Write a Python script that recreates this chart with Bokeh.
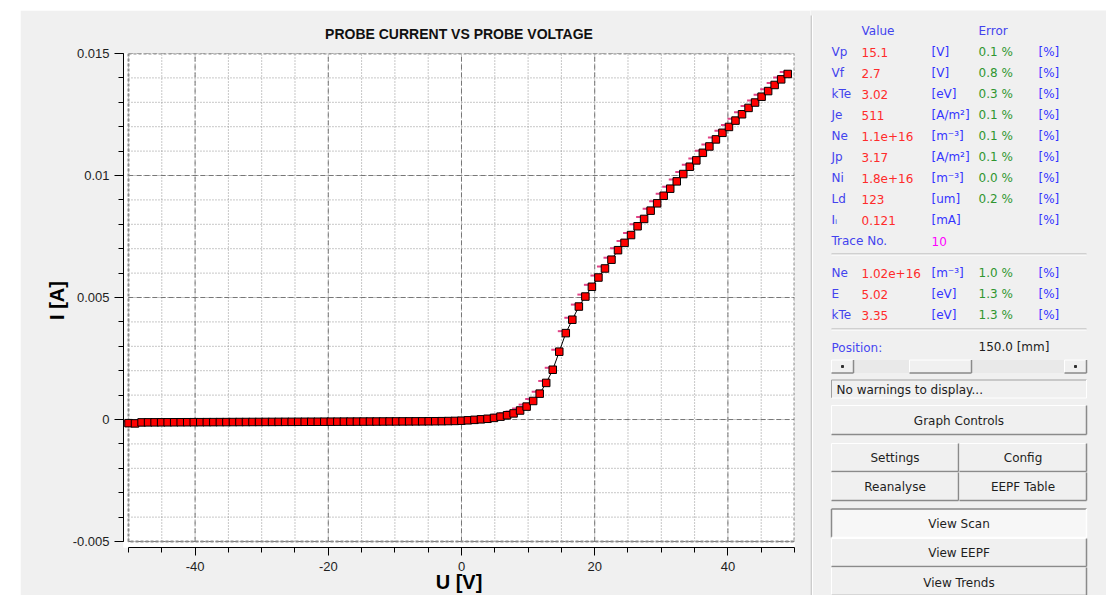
from bokeh.plotting import figure
from bokeh.models import Range1d, FixedTicker, NumeralTickFormatter, Spacer
from bokeh.layouts import row, column
from bokeh.embed import file_html
from bokeh.resources import INLINE
from bokeh.core.properties import value

# ---- probe sweep: voltage [V] and measured probe current [A] ----
voltage = [
    -50.00, -49.02, -48.04, -47.06, -46.08, -45.10, -44.12, -43.14, -42.16, -41.18,
    -40.20, -39.22, -38.24, -37.26, -36.28, -35.30, -34.32, -33.34, -32.36, -31.38,
    -30.40, -29.42, -28.44, -27.46, -26.48, -25.50, -24.52, -23.54, -22.56, -21.58,
    -20.60, -19.62, -18.64, -17.66, -16.68, -15.70, -14.72, -13.74, -12.76, -11.78,
    -10.80, -9.82, -8.84, -7.86, -6.88, -5.90, -4.92, -3.94, -2.96, -1.98,
    -1.00, -0.02, 0.96, 1.94, 2.92, 3.90, 4.88, 5.86, 6.84, 7.82,
    8.80, 9.78, 10.76, 11.74, 12.72, 13.70, 14.68, 15.66, 16.64, 17.62,
    18.60, 19.58, 20.56, 21.54, 22.52, 23.50, 24.48, 25.46, 26.44, 27.42,
    28.40, 29.38, 30.36, 31.34, 32.32, 33.30, 34.28, 35.26, 36.24, 37.22,
    38.20, 39.18, 40.16, 41.14, 42.12, 43.10, 44.08, 45.06, 46.04, 47.02,
    48.00, 48.98,
]
current = [
    -0.000150, -0.000160, -0.000118, -0.000117, -0.000116, -0.000115, -0.000114, -0.000113, -0.000112, -0.000111,
    -0.000110, -0.000109, -0.000108, -0.000107, -0.000106, -0.000105, -0.000104, -0.000103, -0.000102, -0.000101,
    -0.000100, -0.000099, -0.000098, -0.000097, -0.000096, -0.000095, -0.000094, -0.000093, -0.000092, -0.000091,
    -0.000090, -0.000089, -0.000088, -0.000087, -0.000086, -0.000085, -0.000084, -0.000083, -0.000082, -0.000081,
    -0.000080, -0.000079, -0.000078, -0.000077, -0.000076, -0.000075, -0.000073, -0.000071, -0.000068, -0.000064,
    -0.000058, -0.000048, -0.000032, -0.000014, 0.000008, 0.000030, 0.000066, 0.000118, 0.000176, 0.000250,
    0.000370, 0.000530, 0.000760, 0.001060, 0.001500, 0.002040, 0.002780, 0.003540, 0.004090, 0.004630,
    0.005040, 0.005440, 0.005820, 0.006190, 0.006550, 0.006940, 0.007240, 0.007560, 0.007920, 0.008220,
    0.008560, 0.008860, 0.009170, 0.009460, 0.009760, 0.010060, 0.010360, 0.010620, 0.010930, 0.011190,
    0.011480, 0.011750, 0.011990, 0.012250, 0.012510, 0.012770, 0.012990, 0.013230, 0.013460, 0.013710,
    0.013940, 0.014160,
]

# ---- axis ticks ----
x_major = [-40, -20, 0, 20, 40]
x_minor = [-50, -45, -40, -35, -30, -25, -20, -15, -10, -5, 0, 5, 10, 15, 20, 25, 30, 35, 40, 45, 50]
y_major = [-0.005, 0, 0.005, 0.01, 0.015]
y_minor = [-0.005, -0.004, -0.003, -0.002, -0.001, 0.0, 0.001, 0.002, 0.003, 0.004, 0.005,
           0.006, 0.007, 0.008, 0.009, 0.01, 0.011, 0.012, 0.013, 0.014, 0.015]
x_lim = (-50, 50)
y_lim = (-0.005, 0.015)

# ---- analysis results panel ----
param_names = ["Vp", "Vf", "kTe", "Je", "Ne", "Jp", "Ni", "Ld", "Iᵢ"]
param_values = ["15.1", "2.7", "3.02", "511", "1.1e+16", "3.17", "1.8e+16", "123", "0.121"]
param_units = ["[V]", "[V]", "[eV]", "[A/m²]", "[m⁻³]", "[A/m²]", "[m⁻³]", "[um]", "[mA]"]
param_errors = ["0.1 %", "0.8 %", "0.3 %", "0.1 %", "0.1 %", "0.1 %", "0.0 %", "0.2 %", ""]
trace_no = "10"
eepf_names = ["Ne", "E", "kTe"]
eepf_values = ["1.02e+16", "5.02", "3.35"]
eepf_units = ["[m⁻³]", "[eV]", "[eV]"]
eepf_errors = ["1.0 %", "1.3 %", "1.3 %"]
position_text = "150.0 [mm]"
warning_text = "No warnings to display..."
button_labels = ["Graph Controls", "Settings", "Config", "Reanalyse", "EEPF Table",
                 "View Scan", "View EEPF", "View Trends"]

BG = "#f0f0f0"
TICK_FONT = "Liberation Sans"
PANEL_FONT = "DejaVu Sans"

# ================= I-V characteristic =================
p = figure(width=790, height=585,
           x_range=Range1d(-50.75, 50), y_range=Range1d(-0.005245, 0.015),
           output_backend="svg", toolbar_location=None,
           min_border_left=103, min_border_right=16, min_border_top=43, min_border_bottom=47,
           background_fill_color="white", border_fill_color=BG, outline_line_color=None)
p.frame_align = False
p.xgrid.visible = False
p.ygrid.visible = False

p.title.text = "PROBE CURRENT VS PROBE VOLTAGE"
p.title.align = "center"
p.title.text_font = TICK_FONT
p.title.text_font_size = "14px"
p.title.text_font_style = "bold"
p.title.text_color = "#111111"
p.title.standoff = 23

# grid: dotted minor lines, dashed major lines, dashed outer border
p.segment(x0=x_minor, y0=[y_lim[0]] * len(x_minor), x1=x_minor, y1=[y_lim[1]] * len(x_minor),
          line_color="#8f8f8f", line_width=1, line_dash="1 2")
p.segment(x0=[x_lim[0]] * len(y_minor), y0=y_minor, x1=[x_lim[1]] * len(y_minor), y1=y_minor,
          line_color="#8f8f8f", line_width=1, line_dash="1 2")
p.segment(x0=x_major, y0=[y_lim[0]] * len(x_major), x1=x_major, y1=[y_lim[1]] * len(x_major),
          line_color="#777777", line_width=1, line_dash="5 3")
p.segment(x0=[x_lim[0]] * len(y_major), y0=y_major, x1=[x_lim[1]] * len(y_major), y1=y_major,
          line_color="#777777", line_width=1, line_dash="5 3")
p.quad(left=[x_lim[0]], right=[x_lim[1]], bottom=[y_lim[0]], top=[y_lim[1]],
       fill_alpha=0, line_color="#8c8c8c", line_width=2, line_dash="3 2")

# measured trace
p.line(voltage, current, line_color="black", line_width=1)
p.segment(x0=[v - 1.2 for v in voltage], y0=[c + 0.00008 for c in current],
          x1=[v - 0.15 for v in voltage], y1=[c + 0.00008 for c in current],
          line_color="#dd2272", line_width=2, line_alpha=0.85)
p.scatter(voltage, current, marker="square", size=7.5,
          fill_color="#ff0000", line_color="black", line_width=1)

p.xaxis.ticker = FixedTicker(ticks=x_major, minor_ticks=x_minor)
p.yaxis.ticker = FixedTicker(ticks=y_major, minor_ticks=y_minor)
p.xaxis.formatter = NumeralTickFormatter(format="0")
p.yaxis.formatter = NumeralTickFormatter(format="0.[000]")
p.xaxis.bounds = x_lim
p.yaxis.bounds = y_lim
p.xaxis.axis_label = "U [V]"
p.yaxis.axis_label = "I [A]"
for ax in (p.xaxis[0], p.yaxis[0]):
    ax.axis_line_color = "black"
    ax.axis_line_width = 1
    ax.major_tick_line_color = "black"
    ax.minor_tick_line_color = "black"
    ax.major_tick_in = 0
    ax.minor_tick_in = 0
    ax.minor_tick_out = 5
    ax.major_label_text_font = TICK_FONT
    ax.major_label_text_font_size = "13px"
    ax.major_label_text_color = "#1e1e1e"
    ax.axis_label_text_font = TICK_FONT
    ax.axis_label_text_font_size = "20px"
    ax.axis_label_text_font_style = "bold"
    ax.axis_label_text_color = "black"
p.xaxis.major_tick_out = 8
p.xaxis.major_label_standoff = 6
p.xaxis.axis_label_standoff = -3
p.yaxis.major_tick_out = 9
p.yaxis.major_label_standoff = 5
p.yaxis.axis_label_standoff = 2

# ================= results / control panel =================
q = figure(width=296, height=585, x_range=Range1d(810, 1106), y_range=Range1d(595, 10),
           output_backend="svg", toolbar_location=None, min_border=0,
           x_axis_location=None, y_axis_location=None,
           background_fill_color=BG, border_fill_color=BG, outline_line_color=None)
q.frame_align = False
q.grid.visible = False

# divider between the graph and the panel
q.segment(x0=[810.5, 812], y0=[15, 15], x1=[810.5, 812], y1=[595, 595],
          line_color=["#a8a8a8", "#ffffff"], line_width=1)

col_label, col_value, col_unit, col_err, col_pct = 831, 861, 931, 978, 1038
row_y = [51.5 + 21 * k for k in range(len(param_names))]
trace_y = 240.5
eepf_y = [272.5, 293.5, 314.5]

LABEL_C, VALUE_C, UNIT_C, ERR_C = "#4343ee", "#ff2b2b", "#3434ff", "#2f962f"


def texts(xs, ys, labels, color, align="left", size="12px"):
    q.text(x=xs, y=ys, text=labels, text_font=value(PANEL_FONT), text_font_size=size,
           text_color=color, text_baseline="middle", text_align=align)


texts([col_value, col_err], [30, 30], ["Value", "Error"], LABEL_C)
texts([col_label] * len(param_names), row_y, param_names, LABEL_C)
texts([col_value] * len(param_values), row_y, param_values, VALUE_C)
texts([col_unit] * len(param_units), row_y, param_units, UNIT_C)
texts([col_err] * len(param_errors), row_y, param_errors, ERR_C)
texts([col_pct] * len(param_names), row_y, ["[%]"] * len(param_names), UNIT_C)
texts([col_label], [trace_y], ["Trace No."], LABEL_C)
texts([col_unit], [trace_y], [trace_no], "#ff00ff")

texts([col_label] * 3, eepf_y, eepf_names, LABEL_C)
texts([col_value] * 3, eepf_y, eepf_values, VALUE_C)
texts([col_unit] * 3, eepf_y, eepf_units, UNIT_C)
texts([col_err] * 3, eepf_y, eepf_errors, ERR_C)
texts([col_pct] * 3, eepf_y, ["[%]"] * 3, UNIT_C)

# etched separators
q.segment(x0=[831, 831, 831, 831], y0=[253.5, 254.5, 328.5, 329.5],
          x1=[1086, 1086, 1086, 1086], y1=[253.5, 254.5, 328.5, 329.5],
          line_color=["#b0b0b0", "#ffffff", "#b0b0b0", "#ffffff"], line_width=1)

texts([col_label], [347], ["Position:"], "#4646f0")
texts([col_err], [346], [position_text], "#202020")

# slider: track, arrow buttons and thumb
q.quad(left=[831], right=[1086], top=[359.5], bottom=[372.5], fill_color="#e9e9e9", line_color=None)


def raised(l, r, t, b, fill=BG):
    q.quad(left=l, right=r, top=t, bottom=b, fill_color=fill, line_color=None)
    q.segment(x0=l, y0=t, x1=r, y1=t, line_color="#ffffff", line_width=1)
    q.segment(x0=l, y0=t, x1=l, y1=b, line_color="#ffffff", line_width=1)
    q.segment(x0=l, y0=b, x1=r, y1=b, line_color="#8a8a8a", line_width=1.5)
    q.segment(x0=r, y0=t, x1=r, y1=b, line_color="#8a8a8a", line_width=1.5)


raised([831, 909, 1064], [853, 971, 1086], [359.5] * 3, [372.5] * 3)
q.scatter(x=[842, 1075], y=[366, 366], marker="square", size=2, color="#303030")

# warning box (sunken)
q.quad(left=[831], right=[1086], top=[379.5], bottom=[397.5], fill_color=BG, line_color=None)
q.segment(x0=[831, 831, 831, 1086], y0=[379.5, 379.5, 397.5, 379.5],
          x1=[1086, 831, 1086, 1086], y1=[379.5, 397.5, 397.5, 397.5],
          line_color=["#a0a0a0", "#a0a0a0", "#ffffff", "#ffffff"], line_width=1)
texts([836], [389], [warning_text], "#202020")

# buttons
btn_l = [831, 831, 959, 831, 959, 831, 831]
btn_r = [1086, 958, 1086, 958, 1086, 1086, 1086]
btn_t = [405, 443, 443, 472, 472, 538, 567]
btn_b = [434, 471, 471, 500, 500, 566, 595]
raised(btn_l, btn_r, btn_t, btn_b)
# pressed "View Scan" button
q.quad(left=[831], right=[1086], top=[508.5], bottom=[537], fill_color="#f7f7f7", line_color=None)
q.segment(x0=[831, 831, 831, 1086], y0=[508.5, 508.5, 537, 508.5],
          x1=[1086, 831, 1086, 1086], y1=[508.5, 537, 537, 537],
          line_color=["#8a8a8a", "#8a8a8a", "#ffffff", "#ffffff"], line_width=1.5)

btn_cx = [958.5, 894.5, 1022.5, 894.5, 1022.5, 958.5, 958.5, 958.5]
btn_cy = [420, 457, 457, 486, 486, 523, 552, 582]
texts(btn_cx, btn_cy, button_labels, "#1e1e1e", align="center")

layout = column(Spacer(width=1106, height=10),
                row(Spacer(width=20, height=585), p, q))

open("out.html", "w").write(file_html(layout, INLINE))
